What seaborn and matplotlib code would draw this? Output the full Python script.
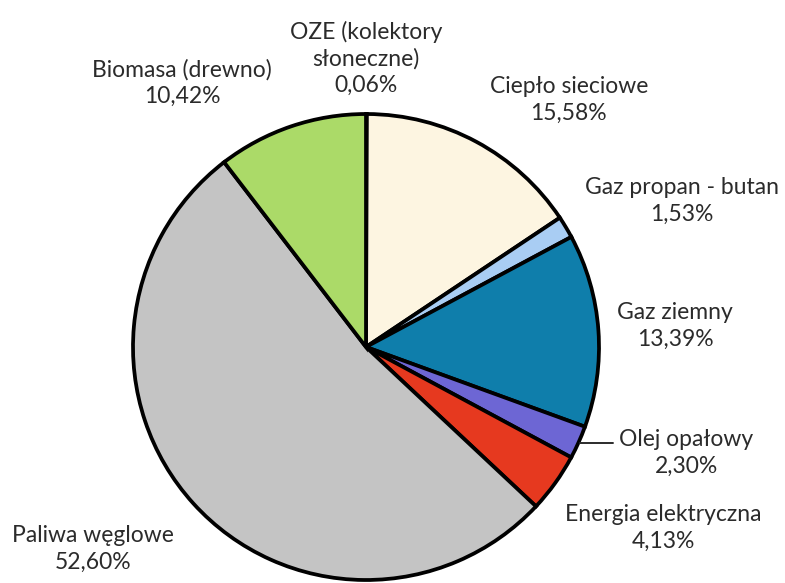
import matplotlib
matplotlib.use("Agg")
import matplotlib.pyplot as plt
import seaborn as sns

# shares of heating sources, clockwise from 12 o'clock
categories = ["OZE (kolektory\nsłoneczne)", "Ciepło sieciowe", "Gaz propan - butan",
              "Gaz ziemny", "Olej opałowy", "Energia elektryczna",
              "Paliwa węglowe", "Biomasa (drewno)"]
shares = [0.06, 15.58, 1.53, 13.39, 2.30, 4.13, 52.60, 10.42]
colors = ["#f5f0d8", "#fdf5e1", "#a9cdf3", "#0f7eab", "#6d66d4",
          "#e6391f", "#c4c4c4", "#abda68"]

# label anchor points (pie radius = 1)
label_xy = [(0.0, 1.24), (0.87, 1.06), (1.355, 0.627), (1.326, 0.09),
            (1.375, -0.455), (1.275, -0.777), (-1.17, -0.867), (-0.79, 1.133)]

sns.set_theme(style="white")
plt.rcParams['font.family'] = ['Lato', 'DejaVu Sans']

fig = plt.figure(figsize=(7.85, 5.83), dpi=100)
W, H = 785, 583
cx, cy, r = 366, 347, 233
ax = fig.add_axes([(cx - r) / W, (H - cy - r) / H, 2 * r / W, 2 * r / H])

ax.pie(shares, colors=colors, startangle=90, counterclock=False,
       wedgeprops=dict(edgecolor="black", linewidth=2.7))
ax.set_xlim(-1, 1)
ax.set_ylim(-1, 1)
ax.set_aspect("equal")
ax.axis("off")

for name, val, (x, y) in zip(categories, shares, label_xy):
    txt = f"{name}\n{val:.2f}%".replace(".", ",")
    ax.text(x, y, txt, ha="center", va="center", fontsize=16.5,
            color="#2b2b2b", linespacing=1.3, clip_on=False)

# leader line for the small oil slice
ax.plot([0.92, 1.06], [-0.412, -0.412], color="#2b2b2b", lw=1.4, clip_on=False)

fig.savefig("out.png", dpi=100)
